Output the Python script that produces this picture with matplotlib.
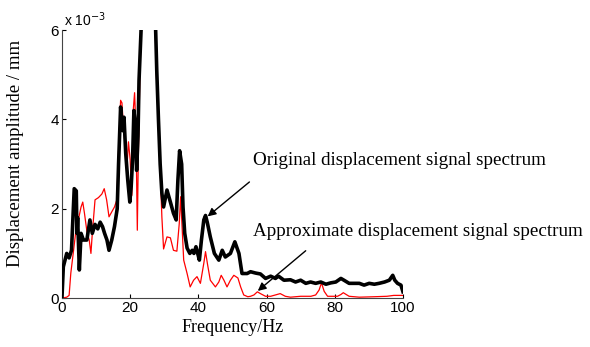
import matplotlib.pyplot as plt

# Spectrum of the original displacement signal (amplitude in 1e-3 mm)
orig_freq = [0, 0.4, 1.4, 2.1, 2.8, 3.6, 4.2, 4.4, 4.6, 5.1, 5.6, 6.3, 7.3, 8.2, 8.9, 9.7,
             10.5, 11.2, 11.9, 12.5, 13.2, 13.8, 14.6, 15.4, 16.2, 16.6, 17.2, 17.8, 18.2,
             18.7, 19.3, 19.9, 20.3, 20.7, 21.1, 21.5, 21.9, 22.3, 22.6, 23.2, 23.8, 25.0,
             26.5, 27.3, 27.8, 28.3, 28.8, 29.3, 29.8, 30.8, 31.8, 32.7, 33.5, 34.0, 34.5,
             35.1, 35.5, 36.0, 36.7, 37.5, 38.2, 38.7, 39.3, 39.8, 40.3, 40.9, 41.6, 42.1,
             42.6, 43.5, 44.7, 46.0, 47.0, 47.9, 49.4, 50.7, 51.9, 52.8, 54.3, 55.3, 56.8,
             58.2, 59.7, 61.2, 62.6, 63.5, 65.1, 67.0, 68.5, 70.0, 71.5, 72.9, 74.4, 75.9,
             77.4, 78.8, 80.3, 81.8, 82.7, 84.2, 85.7, 87.2, 88.6, 90.1, 91.6, 93.0, 94.6,
             96.0, 97.0, 97.6, 98.4, 99.4, 100.0]
orig_amp = [0, 0.7, 1.0, 0.9, 1.07, 2.45, 2.4, 1.45, 1.8, 0.63, 1.45, 1.3, 1.3, 1.75, 1.45, 1.65,
            1.55, 1.7, 1.6, 1.45, 1.3, 1.07, 1.3, 1.6, 2.0, 3.0, 4.28, 3.75, 4.05,
            3.24, 2.64, 2.15, 2.5, 3.08, 4.2, 3.9, 2.86, 3.63, 4.87, 6.0, 8.0, 10.5,
            9.0, 6.5, 5.1, 4.0, 3.0, 2.35, 2.04, 2.42, 2.15, 1.9, 1.75, 2.64, 3.3,
            3.0, 2.04, 1.45, 1.12, 1.0, 1.07, 1.0, 1.15, 1.0, 0.85, 1.3, 1.75, 1.85,
            1.7, 1.37, 1.0, 0.85, 1.07, 0.92, 1.0, 1.26, 1.0, 0.55, 0.55, 0.59, 0.56,
            0.54, 0.44, 0.49, 0.44, 0.49, 0.40, 0.41, 0.36, 0.40, 0.33, 0.36, 0.33, 0.36,
            0.31, 0.34, 0.36, 0.44, 0.40, 0.33, 0.33, 0.33, 0.29, 0.33, 0.31, 0.33, 0.36,
            0.40, 0.51, 0.40, 0.33, 0.29, 0.14]

# Spectrum of the approximate (reconstructed) displacement signal
approx_freq = [0, 1.4, 2.1, 2.6, 3.3, 4.0, 4.8, 5.6, 6.1, 6.6, 7.4, 8.0, 8.5, 8.9, 9.7, 10.7,
               11.7, 12.4, 13.1, 13.8, 14.6, 15.4, 16.1, 16.6, 17.2, 17.6, 18.1, 18.6, 19.0,
               19.5, 20.0, 20.5, 20.9, 21.3, 21.7, 22.1, 22.4, 22.8, 23.2, 23.8, 25.0, 26.5,
               27.2, 27.7, 28.3, 28.8, 29.3, 29.8, 30.8, 31.8, 32.7, 33.7, 34.4, 34.8, 35.7,
               36.7, 37.6, 38.6, 39.6, 40.6, 41.6, 42.1, 42.7, 43.5, 45.0, 46.0, 46.7, 47.5,
               48.4, 49.4, 50.4, 51.6, 52.4, 53.3, 54.5, 55.3, 56.3, 57.3, 58.2, 59.7, 61.2,
               62.6, 64.0, 65.5, 67.0, 70.0, 73.0, 74.4, 75.4, 76.1, 76.9, 77.9, 80.8, 81.8,
               82.5, 84.2, 87.2, 91.6, 95.3, 97.3, 100.0]
approx_amp = [0, 0.02, 0.06, 0.56, 1.0, 1.45, 1.75, 2.04, 2.15, 1.9, 1.45, 1.3, 1.0, 1.45, 2.2, 2.25,
              2.33, 2.45, 2.2, 1.82, 1.93, 2.04, 2.2, 3.3, 4.43, 4.37, 3.75, 3.4, 2.86,
              3.5, 3.1, 2.3, 4.2, 4.6, 3.75, 1.52, 3.2, 4.8, 6.0, 8.0, 10.5, 9.0,
              6.5, 5.0, 3.9, 2.9, 1.82, 1.1, 1.37, 1.35, 1.07, 1.05, 1.67, 2.27, 0.85,
              0.55, 0.25, 0.4, 0.48, 0.33, 0.78, 1.04, 0.75, 0.40, 0.25, 0.36, 0.51, 0.4,
              0.25, 0.4, 0.51, 0.45, 0.25, 0.07, 0.03, 0.04, 0.07, 0.14, 0.1, 0.04, 0.04,
              0.07, 0.1, 0.04, 0.02, 0.04, 0.04, 0.07, 0.18, 0.34, 0.15, 0.04, 0.04, 0.08,
              0.12, 0.04, 0.02, 0.03, 0.04, 0.06, 0.06]

x_ticks = [0, 20, 40, 60, 80, 100]
y_ticks = [0, 2, 4, 6]

serif = ['Liberation Serif', 'DejaVu Serif']
sans = ['Liberation Sans', 'DejaVu Sans']

fig = plt.figure(figsize=(5.9, 3.47), dpi=100)
ax = fig.add_axes([0.105, 0.141, 0.578, 0.772])

ax.plot(approx_freq, approx_amp, color='red', lw=0.9, zorder=2)
ax.plot(orig_freq, orig_amp, color='black', lw=2.6, zorder=3)

ax.set_xlim(0, 100)
ax.set_ylim(0, 6)
ax.set_xticks(x_ticks)
ax.set_yticks(y_ticks)
ax.tick_params(direction='in', length=3, labelsize=11, pad=2)
for lab in ax.get_xticklabels() + ax.get_yticklabels():
    lab.set_family(sans)
for side in ['top', 'right']:
    ax.spines[side].set_visible(False)
for side in ['left', 'bottom']:
    ax.spines[side].set_color('#444444')

ax.text(0.5, 6.02, 'x 10$^{-3}$', fontsize=10, family=sans, va='bottom', ha='left')

ax.set_xlabel('Frequency/Hz', fontsize=13, family=serif, labelpad=3)
ax.set_ylabel('Displacement amplitude / mm', fontsize=13.5, family=serif)
ax.yaxis.set_label_coords(-0.11, 0.54)

# Arrows pointing at each curve, with their captions
ax.annotate('', xy=(42.1, 1.79), xytext=(55.6, 2.64),
            arrowprops=dict(arrowstyle='-|>', color='black', lw=1.0, mutation_scale=12),
            annotation_clip=False)
ax.annotate('', xy=(56.8, 0.12), xytext=(72.1, 1.1),
            arrowprops=dict(arrowstyle='-|>', color='black', lw=1.0, mutation_scale=12),
            annotation_clip=False)
ax.text(56.0, 3.09, 'Original displacement signal spectrum', fontsize=13.7,
        family=serif, va='center', ha='left', clip_on=False)
ax.text(56.0, 1.5, 'Approximate displacement signal spectrum', fontsize=13.7,
        family=serif, va='center', ha='left', clip_on=False)

fig.savefig('out.png', dpi=100)
